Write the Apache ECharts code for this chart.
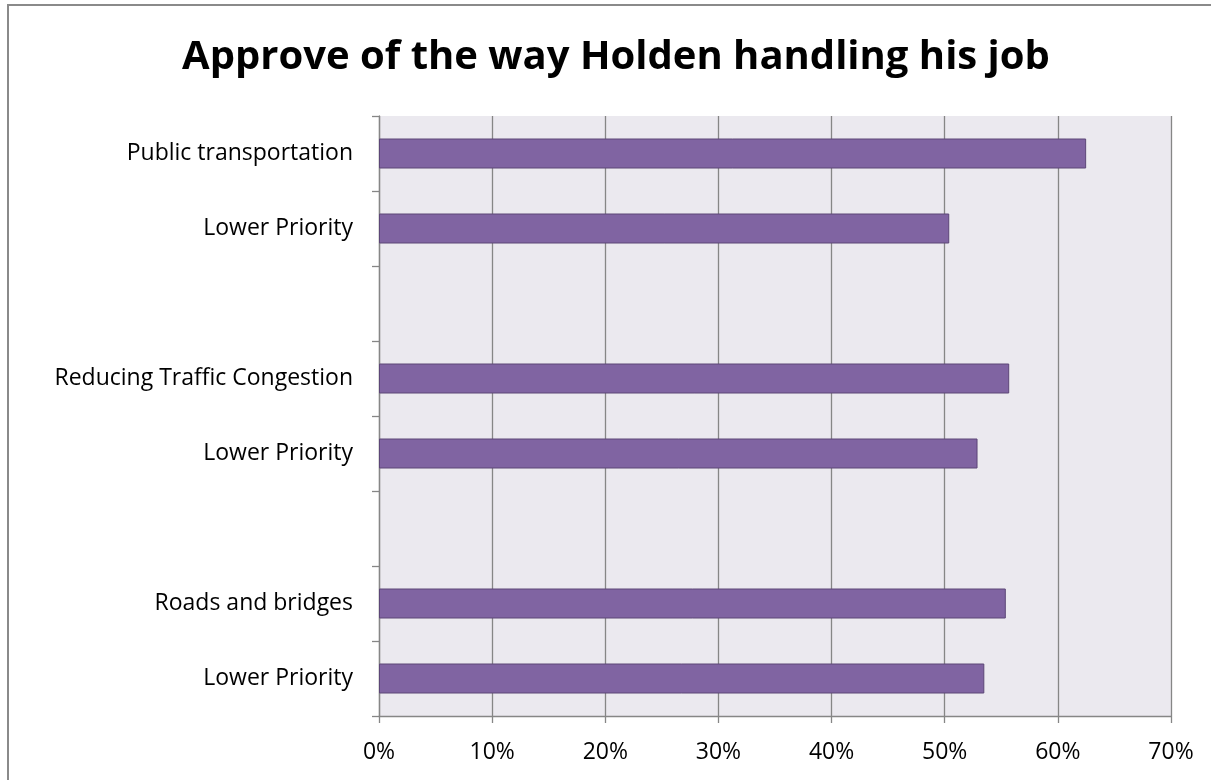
<!DOCTYPE html>
<html>
<head>
<meta charset="utf-8">
<script src="https://cdn.jsdelivr.net/npm/echarts@6/dist/echarts.min.js"></script>
<style>
  html, body { margin: 0; padding: 0; background: #ffffff; overflow: hidden; }
  #frame { position: absolute; left: 7px; top: 4px; width: 1260px; height: 840px; border: 2px solid #8a8a8a; box-sizing: border-box; }
  #chart { position: absolute; left: 0; top: 0; width: 1211px; height: 780px; }
</style>
</head>
<body>
<div id="frame"></div>
<div id="chart"></div>
<script>
const titleText = "Approve of the way Holden handling his job";
const categories = ["Public transportation", "Lower Priority", "", "Reducing Traffic Congestion", "Lower Priority", "", "Roads and bridges", "Lower Priority"];
const approveValues = [62.5, 50.4, null, 55.7, 52.9, null, 55.4, 53.5];
const xTicks = { min: 0, max: 70, interval: 10 };

const chart = echarts.init(document.getElementById('chart'), null, { renderer: 'canvas' });
chart.setOption({
  animation: false,
  backgroundColor: 'transparent',
  graphic: [{
    type: 'text',
    x: 616,
    y: 58,
    style: {
      text: titleText,
      align: 'center',
      verticalAlign: 'middle',
      fontFamily: 'Open Sans',
      fontWeight: 'bold',
      fontSize: 40,
      fill: '#000000'
    }
  }],
  grid: {
    left: 379, right: 40, top: 116, bottom: 64,
    show: true, backgroundColor: '#EBE9EF', borderWidth: 0
  },
  xAxis: {
    type: 'value',
    min: xTicks.min, max: xTicks.max, interval: xTicks.interval,
    axisLine: { show: true, lineStyle: { color: '#868686', width: 1.3 } },
    axisTick: { show: true, length: 7, lineStyle: { color: '#868686', width: 1.3 } },
    splitLine: { show: true, lineStyle: { color: '#868686', width: 1.3 } },
    axisLabel: { formatter: '{value}%', margin: 25, fontFamily: 'Open Sans', fontSize: 23, color: '#000000' }
  },
  yAxis: {
    type: 'category',
    inverse: true,
    data: categories,
    axisLine: { show: true, lineStyle: { color: '#868686', width: 1.3 } },
    axisTick: { show: true, length: 7, alignWithLabel: false, lineStyle: { color: '#868686', width: 1.3 } },
    splitLine: { show: false },
    axisLabel: { margin: 26, fontFamily: 'Open Sans', fontSize: 23, color: '#000000', interval: 0 }
  },
  series: [{
    type: 'bar',
    data: approveValues,
    barWidth: 30,
    itemStyle: { color: '#8064A2', borderColor: '#5C4677', borderWidth: 1 }
  }]
});
</script>
</body>
</html>
